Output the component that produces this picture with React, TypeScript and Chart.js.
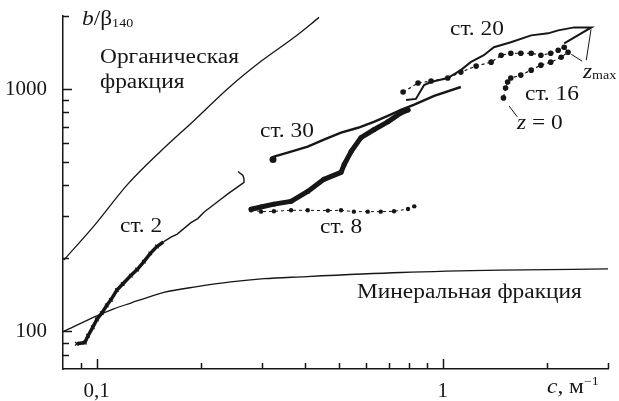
import React, { useEffect, useRef } from 'react';
import { Chart, registerables } from 'chart.js';

Chart.register(...registerables);

const FONT = '"Liberation Serif", "Times New Roman", serif';
const INK = '#161616';

// ---- data ----
const organicC = [0.0804, 0.0982, 0.1231, 0.1534, 0.191, 0.2397, 0.2985, 0.3717, 0.4393];
const organicB = [197, 272, 405, 555, 740, 1005, 1300, 1630, 1974];

const mineralC = [0.0804, 0.1002, 0.1122, 0.1256, 0.1464, 0.1565, 0.195, 0.2443, 0.3045, 0.389, 0.757, 1.47, 3.0];
const mineralB = [100, 116, 124, 131, 141, 145, 153, 160, 165, 168, 175, 179, 181];

const st2C = [0.0877, 0.0925, 0.0945, 0.0975, 0.1002, 0.1035, 0.107, 0.11, 0.1145, 0.119, 0.1256, 0.131, 0.137, 0.143, 0.1494, 0.156, 0.164, 0.171, 0.1873, 0.196, 0.2042, 0.216, 0.2286, 0.24, 0.2545, 0.2666, 0.2666, 0.2647, 0.2562];
const st2B = [89, 90, 96, 104, 112, 119, 128, 135, 148, 157, 170, 180, 194, 210, 224, 234, 245, 252, 281, 292, 310, 330, 351, 370, 393, 412, 425, 440, 457];

const st8BandC = [0.2795, 0.2986, 0.3253, 0.3646, 0.4073, 0.4535, 0.5083, 0.519, 0.5435, 0.5803, 0.6322, 0.6937, 0.7568, 0.7935];
const st8BandB = [319, 326, 335, 344, 378, 424, 453, 488, 552, 630, 679, 732, 797, 820];

const st8LineC = [0.2795, 0.2986, 0.3253, 0.3646, 0.4073, 0.4658, 0.5083, 0.5536, 0.607, 0.662, 0.723, 0.7935, 0.8272];
const st8LineB = [316, 312, 313, 316, 316, 315, 316, 312, 312, 312, 313, 320, 328];

const st30C = [0.3233, 0.3253, 0.3646, 0.4073, 0.4535, 0.5083, 0.569, 0.6322, 0.6937, 0.7568, 0.8272, 0.9441, 1.1275];
const st30B = [512, 526, 552, 578, 618, 661, 692, 732, 775, 820, 862, 936, 1019];

const st20C = [0.7833, 0.8363, 0.883, 0.9241, 1.0335, 1.1275, 1.2035, 1.3135, 1.4045, 1.572, 1.8, 2.015, 2.154, 2.396, 2.685, 2.242];
const st20B = [901, 910, 1038, 1068, 1110, 1196, 1290, 1378, 1486, 1558, 1664, 1696, 1745, 1795, 1795, 1543];

const st16C = [0.7679, 0.8483, 0.925, 1.0335, 1.1275, 1.248, 1.379, 1.474, 1.572, 1.68, 1.8, 1.92, 2.05, 2.154, 2.242, 2.3, 2.197, 2.05, 1.92, 1.8, 1.68, 1.572, 1.539, 1.518, 1.497];
const st16B = [972, 1058, 1079, 1110, 1174, 1243, 1290, 1378, 1404, 1404, 1404, 1378, 1404, 1445, 1486, 1418, 1352, 1290, 1254, 1196, 1141, 1110, 1068, 1009, 919];

// pointer lines for z labels (data coordinates)
const zeroPointer = [[1.554, 851], [1.64, 768]];
const zmaxPointerA = [[2.68, 1762], [2.596, 1315]];
const zmaxPointerB = [[2.349, 1391], [2.527, 1302]];

// axes
const xMin = 0.08;
const xMax = 3;
const yMin = 70;
const yMax = 2000;
const xTickValues = [0.09, 0.1, 0.2, 0.3, 0.4, 0.5, 0.6, 0.7, 0.8, 0.9, 1, 2, 3];
const xMajorTicks = [0.1, 1];
const yTickValues = [80, 90, 100, 200, 300, 400, 500, 600, 700, 800, 900, 1000, 2000];
const yMajorTicks = [100, 1000];
const xTickLabels: [number, string][] = [[0.1, '0,1'], [1, '1']];
const yTickLabels: [number, string][] = [[100, '100'], [1000, '1000']];

const pts = (cs: number[], bs: number[]) => cs.map((c, i) => ({ x: c, y: bs[i] }));
const near = (a: number, b: number) => Math.abs(a - b) / b < 1e-6;

type Part = { t: string; size?: number; italic?: boolean; dy?: number };
function drawRich(ctx: CanvasRenderingContext2D, x: number, y: number, parts: Part[], sx = 1.17) {
  let cx = x;
  for (const p of parts) {
    ctx.font = `${p.italic ? 'italic ' : ''}${p.size ?? 20}px ${FONT}`;
    const w = ctx.measureText(p.t).width * sx;
    ctx.save();
    ctx.translate(cx, y + (p.dy ?? 0));
    ctx.scale(sx, 1);
    ctx.fillText(p.t, 0, 0);
    ctx.restore();
    cx += w;
  }
}

const decorPlugin = {
  id: 'decor',
  afterDraw(chart: any) {
    const { ctx, chartArea, scales } = chart;
    const { left, bottom } = chartArea;
    const xs = scales.x;
    const ys = scales.y;
    ctx.save();
    ctx.strokeStyle = INK;
    ctx.lineWidth = 1.5;
    ctx.beginPath();
    xTickValues.forEach((v) => {
      const px = Math.round(xs.getPixelForValue(v)) + 0.5;
      const len = xMajorTicks.some((m) => near(v, m)) ? 10 : 6;
      ctx.moveTo(px, bottom);
      ctx.lineTo(px, bottom - len);
    });
    yTickValues.forEach((v) => {
      const py = Math.round(ys.getPixelForValue(v)) + 0.5;
      const len = yMajorTicks.some((m) => near(v, m)) ? 9 : 6;
      ctx.moveTo(left, py);
      ctx.lineTo(left + len, py);
    });
    ctx.stroke();

    // pointer lines
    ctx.lineWidth = 1;
    [zeroPointer, zmaxPointerA, zmaxPointerB].forEach((seg) => {
      ctx.beginPath();
      ctx.moveTo(xs.getPixelForValue(seg[0][0]), ys.getPixelForValue(seg[0][1]));
      ctx.lineTo(xs.getPixelForValue(seg[1][0]), ys.getPixelForValue(seg[1][1]));
      ctx.stroke();
    });

    ctx.fillStyle = INK;
    ctx.textBaseline = 'alphabetic';
    ctx.textAlign = 'left';
    drawRich(ctx, 82, 25, [{ t: 'b', italic: true }, { t: '/' }, { t: 'β' }, { t: '140', size: 12, dy: 2 }]);
    drawRich(ctx, 547, 393, [{ t: 'c', italic: true }, { t: ', м' }, { t: '−1', size: 12, dy: -8 }]);
    drawRich(ctx, 100, 63, [{ t: 'Органическая' }]);
    drawRich(ctx, 100, 88, [{ t: 'фракция' }]);
    drawRich(ctx, 357, 298, [{ t: 'Минеральная фракция' }]);
    drawRich(ctx, 120, 232, [{ t: 'ст. 2' }]);
    drawRich(ctx, 260, 137, [{ t: 'ст. 30' }]);
    drawRich(ctx, 320, 233, [{ t: 'ст. 8' }]);
    drawRich(ctx, 450, 35, [{ t: 'ст. 20' }]);
    drawRich(ctx, 525, 100, [{ t: 'ст. 16' }]);
    drawRich(ctx, 517, 129, [{ t: 'z', italic: true }, { t: ' = 0' }]);
    drawRich(ctx, 583, 78, [{ t: 'z', italic: true }, { t: 'max', size: 12, dy: 1 }]);
    ctx.restore();
  },
};

export default function App() {
  const canvasRef = useRef<HTMLCanvasElement | null>(null);

  useEffect(() => {
    const canvas = canvasRef.current;
    if (!canvas) return;
    const base = { showLine: true, borderColor: INK, backgroundColor: INK, pointBorderWidth: 0, tension: 0 };
    const chart = new Chart(canvas, {
      type: 'scatter',
      data: {
        datasets: [
          { ...base, label: 'Органическая фракция', data: pts(organicC, organicB), borderWidth: 1.3, pointRadius: 0, cubicInterpolationMode: 'monotone' },
          { ...base, label: 'Минеральная фракция', data: pts(mineralC, mineralB), borderWidth: 1.3, pointRadius: 0, cubicInterpolationMode: 'monotone' },
          {
            ...base, label: 'ст. 2', data: pts(st2C, st2B), borderWidth: 1.4,
            pointStyle: 'crossRot', pointBorderWidth: 1.2,
            pointRadius: st2C.map((c) => (c < 0.15 ? 2.5 : 0)),
            segment: { borderWidth: (c: any) => (c.p0.parsed.x < 0.15 ? 3.5 : 1.4) },
          },
          { ...base, label: 'ст. 8 a', data: pts(st8BandC, st8BandB), borderWidth: 5, pointRadius: 2.5, borderJoinStyle: 'round', borderCapStyle: 'round' },
          { ...base, label: 'ст. 8 b', data: pts(st8LineC, st8LineB), borderWidth: 1, borderDash: [3, 3], pointRadius: 2.2 },
          { ...base, label: 'ст. 30', data: pts(st30C, st30B), borderWidth: 2.4, pointRadius: st30C.map((_, i) => (i === 0 ? 3.5 : 0)) },
          { ...base, label: 'ст. 20', data: pts(st20C, st20B), borderWidth: 2, pointRadius: 0 },
          { ...base, label: 'ст. 16', data: pts(st16C, st16B), borderWidth: 1.2, borderDash: [3, 3], pointRadius: 2.8 },
        ],
      },
      options: {
        responsive: false,
        animation: false,
        devicePixelRatio: 1,
        layout: { padding: { left: 0, top: 16, right: 11, bottom: 0 } },
        plugins: { legend: { display: false }, tooltip: { enabled: false } },
        scales: {
          x: {
            type: 'logarithmic',
            min: xMin,
            max: xMax,
            grid: { display: false },
            border: { display: true, color: INK, width: 1.5 },
            afterBuildTicks: (scale: any) => { scale.ticks = xTickValues.map((v) => ({ value: v })); },
            afterFit: (scale: any) => { scale.height = 32; scale.paddingLeft = 0; scale.paddingRight = 0; },
            ticks: {
              autoSkip: false,
              maxRotation: 0,
              padding: 2,
              color: INK,
              font: { family: FONT, size: 21 },
              callback: (v: any) => { const f = xTickLabels.find(([k]) => near(Number(v), k)); return f ? f[1] : ''; },
            },
          },
          y: {
            type: 'logarithmic',
            min: yMin,
            max: yMax,
            grid: { display: false },
            border: { display: true, color: INK, width: 1.5 },
            afterBuildTicks: (scale: any) => { scale.ticks = yTickValues.map((v) => ({ value: v })); },
            afterFit: (scale: any) => { scale.width = 63; scale.paddingTop = 0; scale.paddingBottom = 0; },
            ticks: {
              autoSkip: false,
              padding: 8,
              color: INK,
              font: { family: FONT, size: 21 },
              callback: (v: any) => { const f = yTickLabels.find(([k]) => near(Number(v), k)); return f ? f[1] : ''; },
            },
          },
        },
      },
      plugins: [decorPlugin],
    } as any);
    return () => chart.destroy();
  }, []);

  return (
    <div style={{ position: 'fixed', left: 0, top: 0, width: 619, height: 401, background: '#fff' }}>
      <canvas ref={canvasRef} width={619} height={401} style={{ display: 'block', width: 619, height: 401 }} />
    </div>
  );
}
